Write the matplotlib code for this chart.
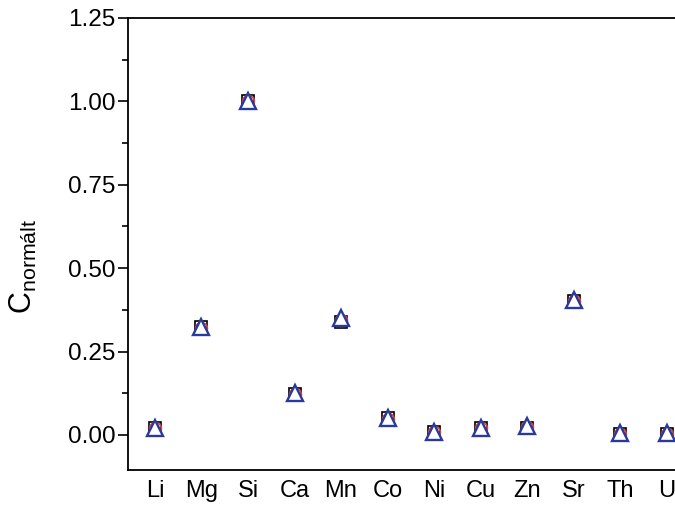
import matplotlib
matplotlib.use('Agg')
import matplotlib.pyplot as plt
from matplotlib.ticker import MultipleLocator

plt.rcParams['font.family'] = ['Liberation Sans', 'DejaVu Sans']
plt.rcParams['mathtext.fontset'] = 'custom'
plt.rcParams['mathtext.rm'] = 'Liberation Sans'
plt.rcParams['mathtext.it'] = 'Liberation Sans:italic'

elements = ['Li', 'Mg', 'Si', 'Ca', 'Mn', 'Co', 'Ni', 'Cu', 'Zn', 'Sr', 'Th', 'U']
# three overlapping series (squares, circles, triangles)
sq_vals = [0.020, 0.323, 1.000, 0.123, 0.338, 0.050, 0.008, 0.020, 0.022, 0.402, 0.004, 0.004]
ci_vals = [0.020, 0.322, 1.000, 0.123, 0.345, 0.048, 0.008, 0.020, 0.024, 0.401, 0.004, 0.004]
tr_vals = [0.022, 0.325, 1.002, 0.125, 0.350, 0.052, 0.010, 0.022, 0.026, 0.404, 0.006, 0.006]

x = list(range(len(elements)))

fig = plt.figure(figsize=(6.75, 5.05), dpi=100)
ax = fig.add_axes([128 / 675, 1 - 470 / 505, 1 - 128 / 675, (470 - 18) / 505])

ax.plot(x, sq_vals, ls='none', marker='s', ms=8, mfc='none', mec='black', mew=1.2)
ax.plot(x, ci_vals, ls='none', marker='o', ms=8.5, mfc='none', mec='#e04040', mew=1.2)
ax.plot(x, tr_vals, ls='none', marker='^', ms=12, mfc='white', mec='#2a3a9a', mew=1.7)

ax.set_xlim(-0.58, 11.18)
ax.set_ylim(-0.105, 1.25)
ax.yaxis.set_major_locator(MultipleLocator(0.25))
ax.yaxis.set_minor_locator(MultipleLocator(0.125))
ax.yaxis.set_major_formatter(plt.FormatStrFormatter('%.2f'))
ax.set_xticks(x)
ax.set_xticklabels(elements)

ax.spines['right'].set_visible(False)
for s in ['left', 'top', 'bottom']:
    ax.spines[s].set_linewidth(1.3)
ax.tick_params(axis='y', which='major', direction='out', length=7, width=1.2, labelsize=17.5, pad=2)
ax.tick_params(axis='y', which='minor', direction='out', length=4, width=1.2)
ax.tick_params(axis='x', length=0, labelsize=17, pad=7)

ax.set_ylabel(r'$\mathrm{C}_{\mathrm{normált}}$', fontsize=22)
ax.yaxis.set_label_coords(-0.162, 0.45)

fig.savefig('out.png', dpi=100)
